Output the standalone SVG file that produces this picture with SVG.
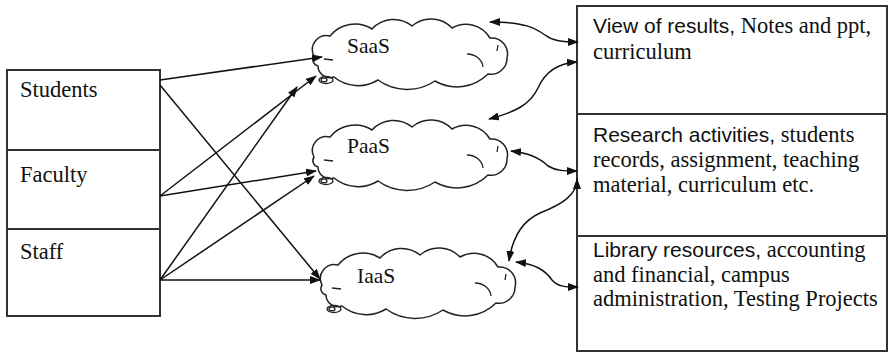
<svg xmlns="http://www.w3.org/2000/svg" width="889" height="353" viewBox="0 0 889 353">
  <style>
    .box { fill: #fff; stroke: #333; stroke-width: 2; }
    .div { stroke: #333; stroke-width: 2; }
    .serif { font-family: "Liberation Serif", "Times New Roman", serif; font-size: 22.5px; fill: #111; }
    .sans { font-family: "Liberation Sans", Arial, sans-serif; font-size: 21px; fill: #111; }
    .cloud { fill: #fff; stroke: #222; stroke-width: 1.5; }
    .inner { fill: none; stroke: #222; stroke-width: 1.3; }
    .edge { fill: none; stroke: #111; stroke-width: 1.5; }
    .arr { marker-end: url(#ah); }
    .bi { marker-start: url(#ah); marker-end: url(#ah); }
  </style>
  <defs>
    <marker id="ah" markerUnits="userSpaceOnUse" markerWidth="11" markerHeight="8" refX="10" refY="4" orient="auto-start-reverse">
      <path d="M0,0 L11,4 L0,8 Z" fill="#111"/>
    </marker>
    <g id="cloudShape">
      <path class="cloud" d="M4,36 A14 14 0 0 1 20,16 A32 32 0 0 1 62,9 A29 29 0 0 1 102,6 A29 29 0 0 1 142,8 A28 28 0 0 1 180,18 A16 16 0 0 1 197,38 A16 16 0 0 1 178,54 A44 44 0 0 1 125,61 A50 50 0 0 1 68,60 A38 38 0 0 1 24,57 A12 12 0 0 1 8,46 A6.5 6.5 0 0 1 4,36 Z"/>
      <path class="inner" d="M14,39 L23,40 M157,34 A16 14 0 0 1 173,47 M188,25 L187,31"/>
      <ellipse class="inner" cx="16" cy="60" rx="7" ry="3.5" fill="#fff"/>
      <ellipse class="inner" cx="14" cy="60" rx="3" ry="1.8"/>
    </g>
  </defs>

  <!-- user groups -->
  <g id="users">
    <rect class="box" x="7" y="70" width="153" height="246"/>
    <line class="div" x1="7" y1="150" x2="160" y2="150"/>
    <line class="div" x1="7" y1="229" x2="160" y2="229"/>
  </g>
  <g id="students"><text class="serif" x="20" y="97">Students</text></g>
  <g id="faculty"><text class="serif" x="20" y="182">Faculty</text></g>
  <g id="staff"><text class="serif" x="20" y="259">Staff</text></g>

  <!-- service clouds -->
  <g id="saas">
    <use href="#cloudShape" transform="translate(310,20)"/>
    <text class="serif" x="347" y="53" style="font-size:21.5px">SaaS</text>
  </g>
  <g id="paas">
    <use href="#cloudShape" transform="translate(310,121)"/>
    <text class="serif" x="347" y="153" style="font-size:21.5px">PaaS</text>
  </g>
  <g id="iaas">
    <use href="#cloudShape" transform="translate(318,249)"/>
    <text class="serif" x="357" y="283" style="font-size:21.5px">IaaS</text>
  </g>

  <!-- resources -->
  <g id="resources">
    <rect class="box" x="577" y="6" width="310" height="345"/>
    <line class="div" x1="577" y1="114" x2="887" y2="114"/>
    <line class="div" x1="577" y1="236" x2="887" y2="236"/>
  </g>
  <g id="res-saas">
    <text x="593" y="33"><tspan class="sans">View of results,</tspan><tspan class="serif"> Notes and ppt,</tspan></text>
    <text class="serif" x="593" y="59">curriculum</text>
  </g>
  <g id="res-paas">
    <text x="593" y="142"><tspan class="sans">Research activities,</tspan><tspan class="serif"> students</tspan></text>
    <text class="serif" x="593" y="167">records, assignment, teaching</text>
    <text class="serif" x="593" y="192">material, curriculum etc.</text>
  </g>
  <g id="res-iaas">
    <text x="593" y="257"><tspan class="sans">Library resources,</tspan><tspan class="serif"> accounting</tspan></text>
    <text class="serif" x="593" y="282">and financial, campus</text>
    <text class="serif" x="593" y="306">administration, Testing Projects</text>
  </g>

  <!-- connectors -->
  <g id="connectors">
    <path class="edge arr" d="M160,80 L322,57"/>
    <path class="edge arr" d="M160,85 L320,279"/>
    <path class="edge arr" d="M160,196 L316,76"/>
    <path class="edge arr" d="M160,280 L297,87"/>
    <path class="edge arr" d="M160,196 L316,171"/>
    <path class="edge arr" d="M160,280 L314,176"/>
    <path class="edge arr" d="M160,280 L320,280"/>

    <path class="edge bi" d="M490,22 C525,22 535,28 545,35 C553,41 562,42 578,42"/>
    <path class="edge bi" d="M489,119 C515,112 530,105 538,88 C546,70 560,63 577,62"/>
    <path class="edge bi" d="M511,151 C530,153 540,158 548,166 C556,171 565,171 577,171"/>
    <path class="edge bi" d="M509,261 C512,240 520,222 540,213 C560,205 577,196 577,179"/>
    <path class="edge bi" d="M516,262 C535,264 545,270 552,280 C558,287 566,287 578,287"/>
  </g>
</svg>
